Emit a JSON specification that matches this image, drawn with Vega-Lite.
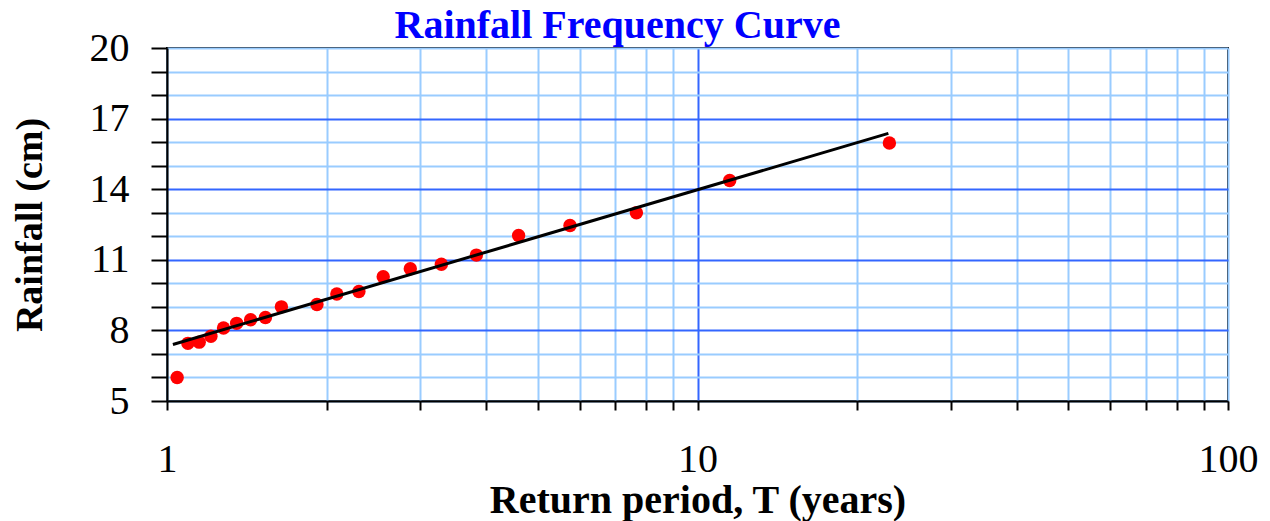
{
  "$schema": "https://vega.github.io/schema/vega-lite/v6.json",
  "width": 1061,
  "height": 353,
  "autosize": "none",
  "padding": {"left": 167, "top": 48, "right": 42, "bottom": 120},
  "background": "white",
  "config": {"view": {"stroke": "black", "strokeWidth": 2}},
  "title": {
    "text": "Rainfall Frequency Curve",
    "color": "#0000ff",
    "font": "Liberation Serif",
    "fontSize": 40,
    "fontWeight": "bold",
    "anchor": "middle",
    "dx": -80,
    "dy": 61,
    "baseline": "bottom",
    "offset": 3
  },
  "datasets": {
    "obs": [
      {"T": 1.045, "Rainfall": 6.0},
      {"T": 1.095, "Rainfall": 7.45},
      {"T": 1.15, "Rainfall": 7.5},
      {"T": 1.21, "Rainfall": 7.75},
      {"T": 1.278, "Rainfall": 8.1},
      {"T": 1.353, "Rainfall": 8.3},
      {"T": 1.4375, "Rainfall": 8.45},
      {"T": 1.533, "Rainfall": 8.55},
      {"T": 1.643, "Rainfall": 9.0},
      {"T": 1.917, "Rainfall": 9.1},
      {"T": 2.09, "Rainfall": 9.55},
      {"T": 2.3, "Rainfall": 9.65},
      {"T": 2.556, "Rainfall": 10.28},
      {"T": 2.875, "Rainfall": 10.62},
      {"T": 3.29, "Rainfall": 10.81},
      {"T": 3.83, "Rainfall": 11.2},
      {"T": 4.6, "Rainfall": 12.03},
      {"T": 5.75, "Rainfall": 12.46},
      {"T": 7.67, "Rainfall": 13.0},
      {"T": 11.5, "Rainfall": 14.37},
      {"T": 23.0, "Rainfall": 15.96}
    ],
    "fit": [
      {"T": 1.026, "Rainfall": 7.4},
      {"T": 22.9, "Rainfall": 16.37}
    ]
  },
  "encoding": {
    "x": {
      "field": "T",
      "type": "quantitative",
      "scale": {"type": "log", "domain": [1, 100], "nice": false},
      "axis": {
        "title": "Return period, T (years)",
        "values": [1, 2, 3, 4, 5, 6, 7, 8, 9, 10, 20, 30, 40, 50, 60, 70, 80, 90, 100],
        "labelExpr": "datum.value == 1 || datum.value == 10 || datum.value == 100 ? format(datum.value, 'd') : ''",
        "grid": true,
        "gridColor": {"condition": {"test": "datum.value == 10", "value": "#3366ff"}, "value": "#99ccff"},
        "gridWidth": 2,
        "gridOpacity": 1,
        "ticks": true,
        "tickColor": "black",
        "tickWidth": 2,
        "tickSize": 9,
        "domain": true,
        "domainColor": "black",
        "domainWidth": 2,
        "labelFont": "Liberation Serif",
        "labelFontSize": 40,
        "labelColor": "black",
        "labelPadding": 29,
        "labelFlush": false,
        "labelOverlap": false,
        "labelBound": false,
        "titleFont": "Liberation Serif",
        "titleFontSize": 40,
        "titleFontWeight": "bold",
        "titleColor": "black",
        "titleBaseline": "alphabetic",
        "titleY": 111
      }
    },
    "y": {
      "field": "Rainfall",
      "type": "quantitative",
      "scale": {"domain": [5, 20], "nice": false, "zero": false},
      "axis": {
        "title": "Rainfall (cm)",
        "values": [5, 6, 7, 8, 9, 10, 11, 12, 13, 14, 15, 16, 17, 18, 19, 20],
        "labelExpr": "(datum.value - 5) % 3 == 0 ? format(datum.value, 'd') : ''",
        "grid": true,
        "gridColor": {"condition": {"test": "datum.value == 8 || datum.value == 11 || datum.value == 14 || datum.value == 17", "value": "#3366ff"}, "value": "#99ccff"},
        "gridWidth": 2,
        "gridOpacity": 1,
        "tickColor": "black",
        "tickWidth": 2,
        "tickSize": 16,
        "domainColor": "black",
        "domainWidth": 2,
        "labelFont": "Liberation Serif",
        "labelFontSize": 40,
        "labelColor": "black",
        "labelPadding": 22,
        "labelFlush": false,
        "labelOverlap": false,
        "labelBound": false,
        "titleFont": "Liberation Serif",
        "titleFontSize": 38,
        "titleFontWeight": "bold",
        "titleColor": "black",
        "titlePadding": 40
      }
    }
  },
  "layer": [
    {
      "data": {"name": "obs"},
      "mark": {"type": "point", "shape": "circle", "filled": true, "color": "#ff0000", "size": 180, "opacity": 1}
    },
    {
      "data": {"name": "fit"},
      "mark": {"type": "line", "color": "black", "strokeWidth": 3}
    }
  ]
}
